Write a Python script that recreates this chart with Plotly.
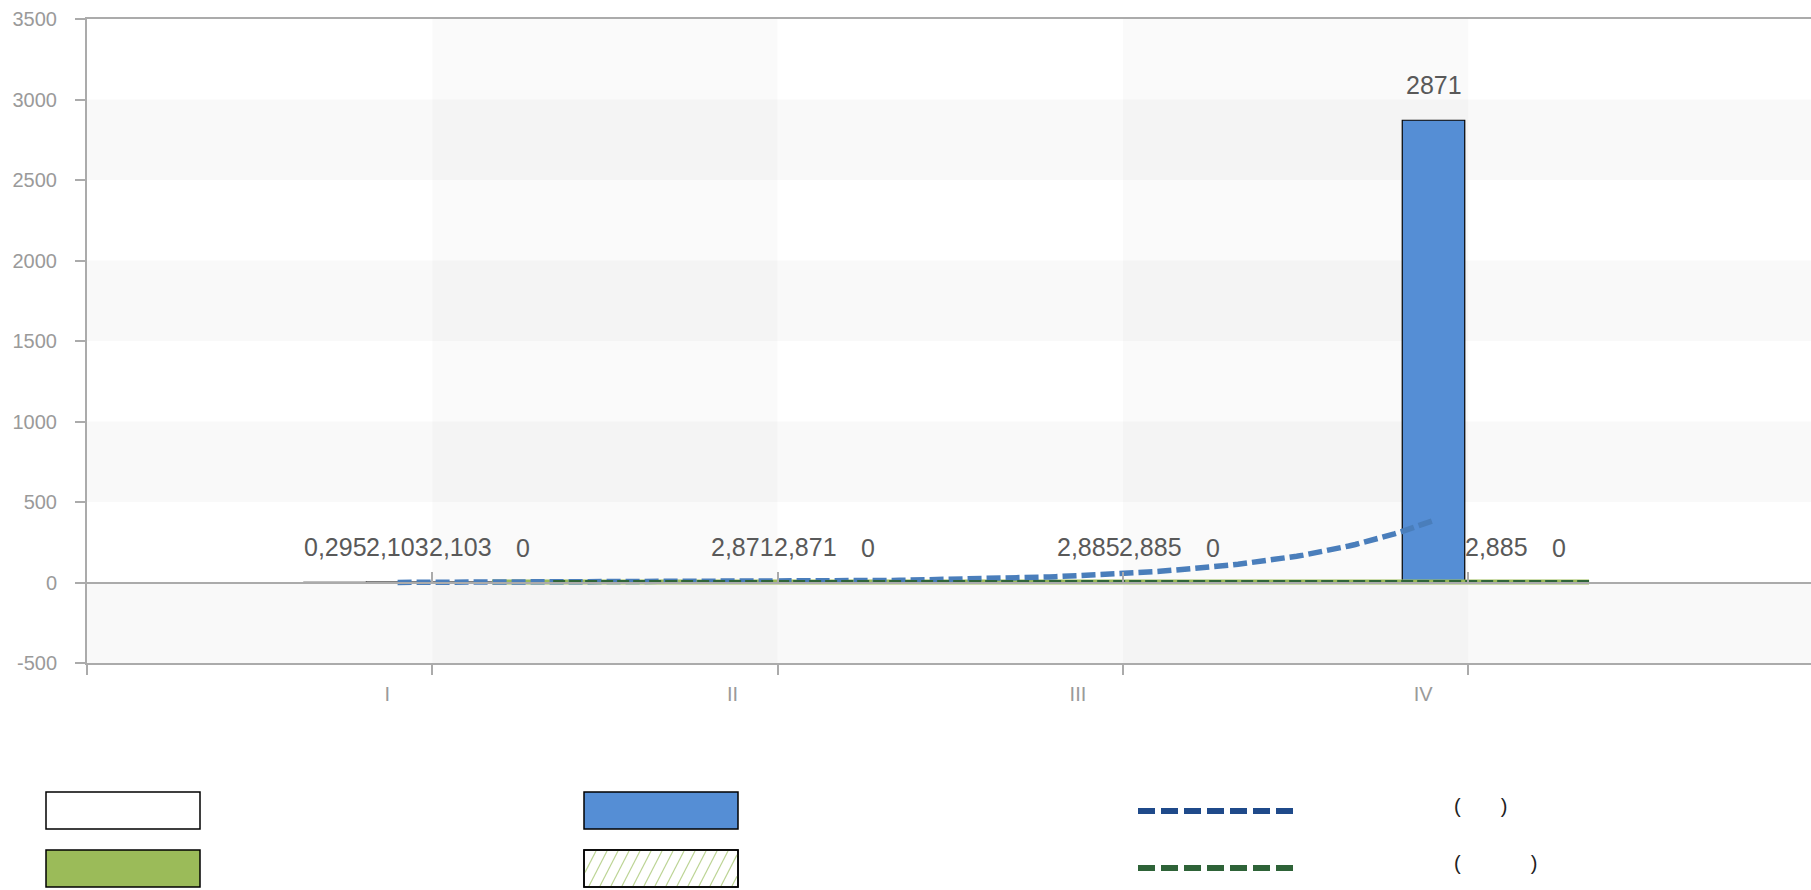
import numpy as np
import plotly.graph_objects as go

# ---- data -------------------------------------------------------------
categories = ["I", "II", "III", "IV"]
white_values = [0.295, None, None, None]
blue_values = [2.103, 2.871, 2.885, 2871]
green_values = [2.103, 2.871, 2.885, 2.885]
hatched_values = [0, 0, 0, 0]
y_tick_values = [-500, 0, 500, 1000, 1500, 2000, 2500, 3000, 3500]

# ---- geometry / style --------------------------------------------------
W, H = 1811, 890
M_L, M_R, M_T, M_B = 87, 0, 19, 227
PX_PER_CAT = 345.3
X_MAX = (W - M_L - M_R) / PX_PER_CAT
Y_MIN, Y_MAX = -500, 3500

BAR_W = 0.181                    # width of one bar, in category units
GROUP_START = -2 * BAR_W - 0.01  # left edge of the group relative to the category
GREEN_SOLID_SPAN = (1.173, 4.35)
GREEN_DASH_SPAN = (1.35, 4.35)

FONT = "Liberation Sans, Arial, sans-serif"
AXIS_GRAY = "#ababab"
TICK_TEXT = "#9a9a9a"
LABEL_TEXT = "#595959"
BLUE = "#558ED5"
GREEN = "#9BBB59"
TREND_BLUE = "#4A7EBB"
TREND_GREEN = "#2F6537"
LEGEND_BLUE = "#1F4A8A"
LEGEND_GREEN = "#2E6338"

cat_pos = np.arange(1, len(categories) + 1, dtype=float)


def fmt(v):
    if v is None:
        return None
    if float(v).is_integer():
        return str(int(v))
    return f"{v:.3f}".replace(".", ",")


series = [
    ("Series A", white_values, dict(color="white", line=dict(color="black", width=1.2))),
    ("Series B", blue_values, dict(color=BLUE, line=dict(color="black", width=1.2))),
    ("Series C", green_values, dict(color=GREEN, line=dict(color="black", width=1.2))),
    ("Series D", hatched_values, dict(color="white", line=dict(color="black", width=1.2),
                                      pattern=dict(shape="/", fgcolor=GREEN, bgcolor="white",
                                                   size=10, solidity=0.15))),
]

fig = go.Figure()
annotations = []

for k, (name, vals, marker) in enumerate(series):
    fig.add_trace(go.Bar(
        x=cat_pos, y=vals, name=name, width=BAR_W,
        offset=GROUP_START + k * BAR_W, marker=marker,
        showlegend=False, hoverinfo="skip",
    ))
    centre = GROUP_START + (k + 0.5) * BAR_W
    for c, v in zip(cat_pos, vals):
        if v is None:
            continue
        annotations.append(dict(
            x=c + centre, y=v, xref="x", yref="y", text=fmt(v),
            showarrow=False, yanchor="bottom", xanchor="center", yshift=19,
            font=dict(family=FONT, size=25, color=LABEL_TEXT),
        ))

# exponential trend of the blue series (fit in log space)
a_exp, b_exp = np.polyfit(cat_pos, np.log(np.array(blue_values, dtype=float)), 1)
t_exp = np.linspace(1, 4, 160)
blue_centre = GROUP_START + 1.5 * BAR_W

# linear trend of the green series
a_lin, b_lin = np.polyfit(cat_pos, np.array(green_values, dtype=float), 1)
x_solid = np.linspace(*GREEN_SOLID_SPAN, 40)
x_dash = np.linspace(*GREEN_DASH_SPAN, 40)

fig.add_trace(go.Scatter(
    x=x_solid, y=a_lin * x_solid + b_lin, mode="lines", name="Linear (Series C) base",
    line=dict(color=GREEN, width=5), showlegend=False, hoverinfo="skip",
))
fig.add_trace(go.Scatter(
    x=t_exp + blue_centre, y=np.exp(b_exp + a_exp * t_exp), mode="lines",
    name="Exponential (Series B)",
    line=dict(color=TREND_BLUE, width=5.5, dash="14px,5px"), showlegend=False, hoverinfo="skip",
))
fig.add_trace(go.Scatter(
    x=x_dash, y=a_lin * x_dash + b_lin, mode="lines", name="Linear (Series C)",
    xaxis="x2", line=dict(color=TREND_GREEN, width=4, dash="12px,4px"),
    showlegend=False, hoverinfo="skip",
))

# alternating background bands
shapes = []
for lo in (2500, 1500, 500, -500):
    shapes.append(dict(type="rect", xref="paper", yref="y", x0=0, x1=1, y0=lo, y1=lo + 500,
                       fillcolor="rgba(0,0,0,0.022)", line=dict(width=0), layer="below"))
for lo in (1, 3):
    shapes.append(dict(type="rect", xref="x", yref="paper", x0=lo, x1=lo + 1, y0=0, y1=1,
                       fillcolor="rgba(0,0,0,0.018)", line=dict(width=0), layer="below"))

# ---- legend, laid out below the plot -----------------------------------
plot_w = W - M_L - M_R
plot_h = H - M_T - M_B


def px_x(p):
    return (p - M_L) / plot_w


def px_y(p):
    return (H - M_B - p) / plot_h


def swatch(x0, x1, y0, y1, fill):
    return dict(type="rect", xref="paper", yref="paper",
                x0=px_x(x0), x1=px_x(x1), y0=px_y(y1), y1=px_y(y0),
                fillcolor=fill, line=dict(color="black", width=1.5), layer="above")


ROW1 = (792, 829)
ROW2 = (850, 887)
COL1 = (46, 200)
COL2 = (584, 738)
COL3 = (1138, 1297)

shapes.append(swatch(*COL1, *ROW1, "white"))
shapes.append(swatch(*COL2, *ROW1, BLUE))
shapes.append(swatch(*COL1, *ROW2, GREEN))
shapes.append(swatch(*COL2, *ROW2, "white"))

# diagonal hatch inside the fourth swatch
L, R = COL2[0] + 1, COL2[1] - 1
top, bot = ROW2[0] + 1, ROW2[1] - 1
dx, step = 18, 11
for x0 in np.arange(L - dx, R, step):
    t0 = max(0.0, (L - x0) / dx)
    t1 = min(1.0, (R - x0) / dx)
    if t0 >= t1:
        continue
    xa, xb = x0 + dx * t0, x0 + dx * t1
    ya, yb = bot - (bot - top) * t0, bot - (bot - top) * t1
    shapes.append(dict(type="line", xref="paper", yref="paper",
                       x0=px_x(xa), x1=px_x(xb), y0=px_y(ya), y1=px_y(yb),
                       line=dict(color="#BCD494", width=1.2), layer="above"))
# redraw the swatch border over the hatch
shapes.append(dict(type="rect", xref="paper", yref="paper",
                   x0=px_x(COL2[0]), x1=px_x(COL2[1]), y0=px_y(ROW2[1]), y1=px_y(ROW2[0]),
                   line=dict(color="black", width=1.5), layer="above"))

for yc, col in ((811, LEGEND_BLUE), (868, LEGEND_GREEN)):
    shapes.append(dict(type="line", xref="paper", yref="paper",
                       x0=px_x(COL3[0]), x1=px_x(COL3[1]), y0=px_y(yc), y1=px_y(yc),
                       line=dict(color=col, width=6, dash="17px,6px"), layer="above"))

for yc, txt in ((806, "(\u3000\u3000)"), (863, "(\u3000\u3000\u3000\u2002)")):
    annotations.append(dict(x=px_x(1452), y=px_y(yc), xref="paper", yref="paper",
                            text=txt, showarrow=False, xanchor="left", yanchor="middle",
                            font=dict(family=FONT, size=20, color="#222222")))

zero_pos = (0 - Y_MIN) / (Y_MAX - Y_MIN)

fig.update_layout(
    width=W, height=H,
    margin=dict(l=M_L, r=M_R, t=M_T, b=M_B, pad=0),
    paper_bgcolor="white", plot_bgcolor="white",
    barmode="overlay",
    showlegend=False,
    font=dict(family=FONT),
    shapes=shapes,
    annotations=annotations,
    xaxis=dict(
        range=[0, X_MAX], tickvals=[0, 1, 2, 3, 4], ticktext=[""] + categories,
        ticks="outside", ticklen=10, tickwidth=1.5, tickcolor=AXIS_GRAY,
        showline=True, linecolor=AXIS_GRAY, linewidth=2, mirror=True,
        showgrid=False, zeroline=False, ticklabelshift=-45, ticklabelstandoff=2,
        tickfont=dict(family=FONT, size=20, color=TICK_TEXT),
    ),
    xaxis2=dict(
        range=[0, X_MAX], overlaying="x", anchor="free", position=zero_pos, side="bottom",
        tickvals=[1, 2, 3, 4], ticks="inside", ticklen=10, tickwidth=1.5, tickcolor=AXIS_GRAY,
        showticklabels=False, showline=True, linecolor=AXIS_GRAY, linewidth=1.5,
        showgrid=False, zeroline=False,
    ),
    yaxis=dict(
        range=[Y_MIN, Y_MAX], tickvals=y_tick_values,
        ticktext=[str(v) for v in y_tick_values],
        ticks="outside", ticklen=10, tickwidth=1.5, tickcolor=AXIS_GRAY,
        showline=True, linecolor=AXIS_GRAY, linewidth=2,
        showgrid=False, zeroline=False, ticklabelstandoff=14,
        tickfont=dict(family=FONT, size=20, color=TICK_TEXT),
    ),
)

fig.write_html("out.html", post_script="document.body.style.margin='0';")
